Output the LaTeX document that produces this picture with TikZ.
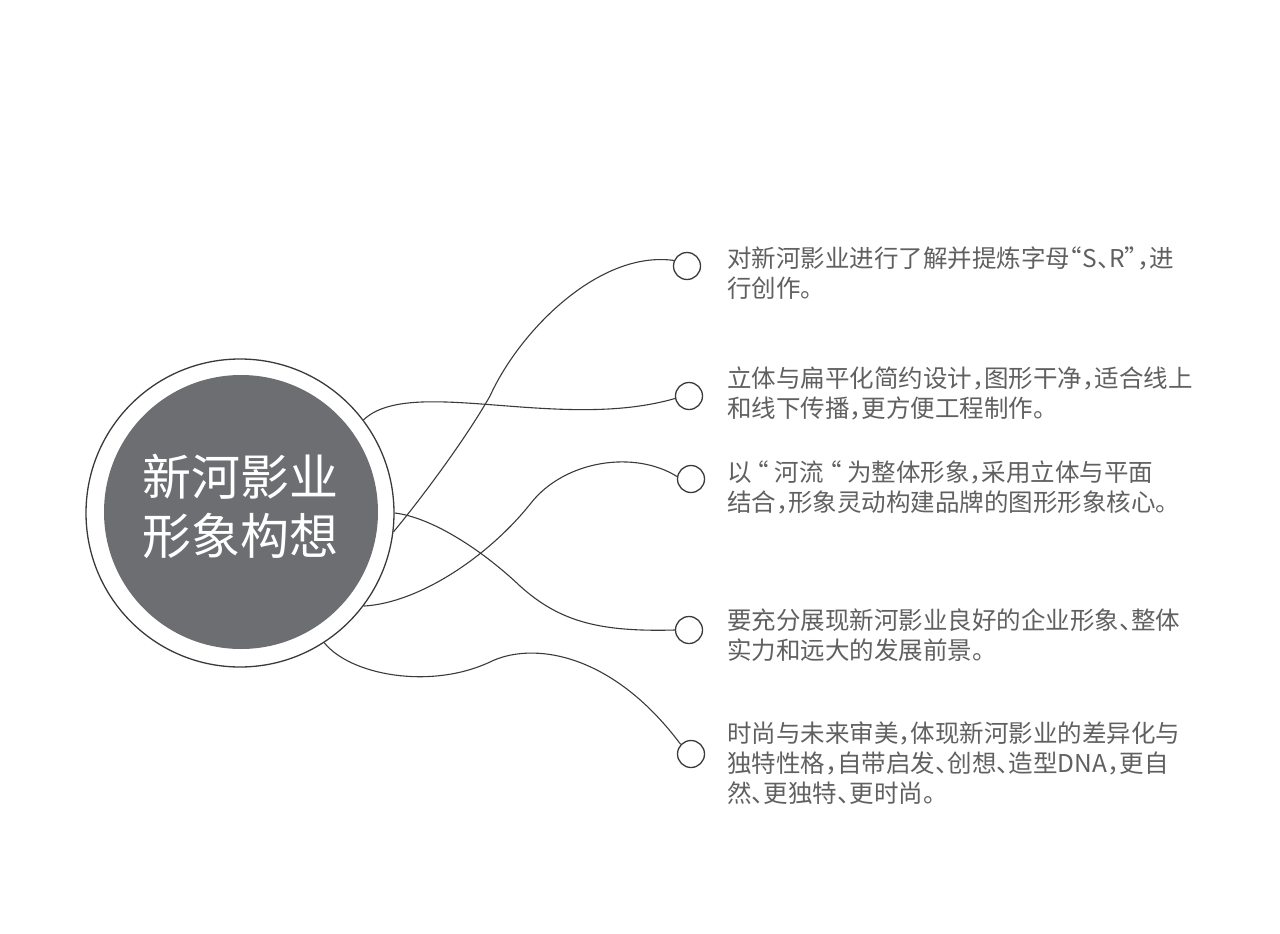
\documentclass[tikz,border=0pt]{standalone}
\usepackage{fontspec}
\setmainfont{Noto Sans CJK SC}
\newfontfamily\cjk{Noto Sans CJK SC}[RawFeature=+halt]
\usepackage{xcolor}
\definecolor{linegray}{HTML}{3A3A3A}
\definecolor{textgray}{HTML}{606060}
\definecolor{coregray}{HTML}{6D6E71}
\tikzset{
  hubring/.style={circle,draw=linegray,line width=1.3pt,minimum size=308pt,inner sep=0pt},
  coredisc/.style={circle,fill=coregray,minimum size=274pt,inner sep=0pt},
  headline/.style={align=center,text=white,inner sep=0pt,font=\cjk\fontsize{49}{59}\selectfont},
  dot/.style={circle,draw=linegray,line width=1.3pt,minimum size=27pt,inner sep=0pt},
  note/.style={anchor=north west,align=left,inner sep=0pt,text=textgray,font=\cjk\fontsize{24.5}{30}\selectfont},
  wire/.style={draw=linegray,line width=1.1pt}
}

\begin{document}
\begin{tikzpicture}[x=1pt,y=-1pt]
\useasboundingbox (0,0) rectangle (1280,934);
\node[hubring] (hub) at (240,513) {};
\node[coredisc] (core) at (241,512) {};
\node[headline] (title) at (240,506) {新河影业\\形象构想};
\node[dot] (d1) at (687,266) {};
\node[dot] (d2) at (689,396) {};
\node[dot] (d3) at (691,479) {};
\node[dot] (d4) at (689,630) {};
\node[dot] (d5) at (691,754) {};
\node[note] (t1) at (727,247) {对新河影业进行了解并提炼字母“S、R”，进\\行创作。};
\node[note] (t2) at (727,367) {立体与扁平化简约设计，图形干净，适合线上\\和线下传播，更方便工程制作。};
\node[note] (t3) at (727,461) {以 “ 河流 “ 为整体形象，采用立体与平面\\结合，形象灵动构建品牌的图形形象核心。};
\node[note] (t4) at (727,608) {要充分展现新河影业良好的企业形象、整体\\实力和远大的发展前景。};
\node[note] (t5) at (727,722) {时尚与未来审美，体现新河影业的差异化与\\独特性格，自带启发、创想、造型DNA，更自\\然、更独特、更时尚。};
\draw[wire] (hub.-7) .. controls (420,500) and (465,440) .. (490,396) .. controls (520,330) and (600,250) .. (d1.157);
\draw[wire] (hub.37) .. controls (410,375) and (560,432) .. (d2.190);
\draw[wire] (hub.-37) .. controls (420,603) and (490,555) .. (531,503) .. controls (565,460) and (635,450) .. (d3.170);
\draw[wire] (hub.0) .. controls (430,517) and (480,548) .. (520,586) .. controls (560,622) and (600,632) .. (d4.west);
\draw[wire] (hub.-57) .. controls (350,675) and (430,690) .. (490,662) .. controls (530,642) and (610,650) .. (d5.137);
\end{tikzpicture}
\end{document}
